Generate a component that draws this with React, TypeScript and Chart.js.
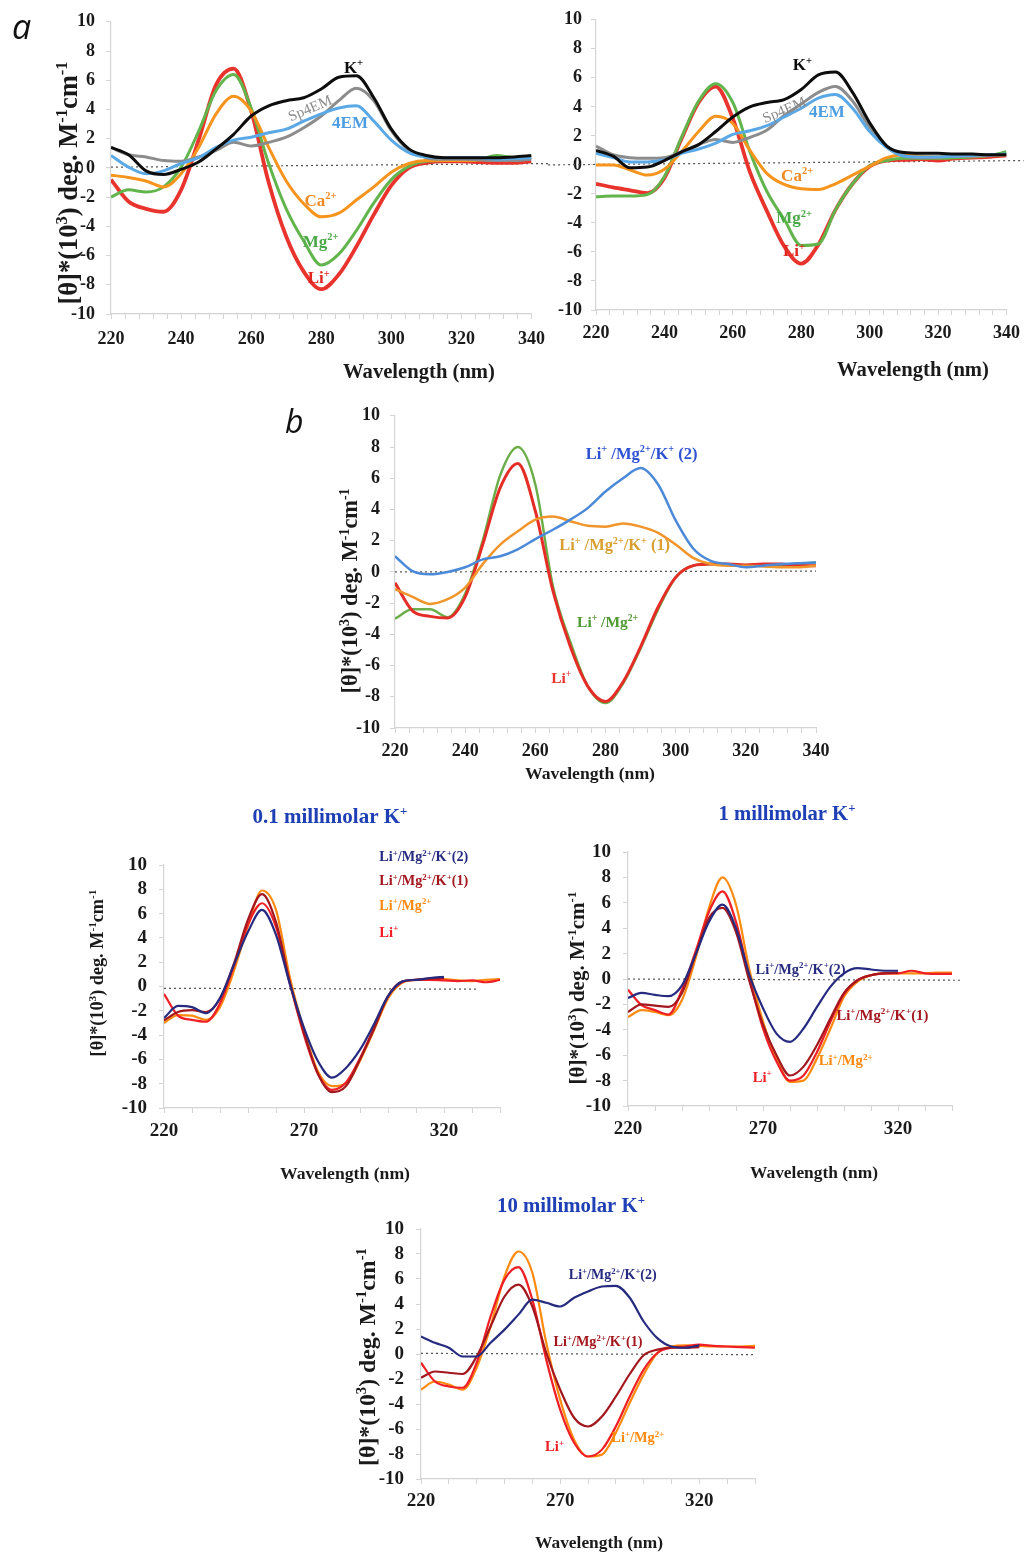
import React, { useEffect, useRef } from "react";
import { Chart, registerables } from "chart.js";

Chart.register(...registerables);

const SERIF = '"Liberation Serif", "Times New Roman", "DejaVu Serif", serif';
const SANS = '"Open Sans", "Liberation Sans", sans-serif';

// wavelength grid (nm)
const WL = [220, 225, 230, 235, 240, 245, 250, 255, 260, 265, 270, 275, 280, 285, 290, 295, 300, 305, 310, 315, 320, 325, 330, 335, 340];

// Panel a (left)
const A1_LI = [-0.8, -2.3, -2.8, -3.0, -1.5, 1.9, 5.7, 6.8, 3.9, -1.0, -4.7, -7.1, -8.3, -7.3, -5.4, -3.2, -1.2, 0.0, 0.35, 0.45, 0.45, 0.4, 0.35, 0.35, 0.45];
const A1_MG = [-2.0, -1.5, -1.65, -1.3, 0.05, 2.5, 5.3, 6.4, 4.1, 0.3, -2.8, -5.0, -6.65, -5.9, -4.3, -2.4, -0.8, 0.1, 0.45, 0.5, 0.5, 0.55, 0.85, 0.7, 0.7];
const A1_CA = [-0.5, -0.65, -0.9, -1.3, -0.4, 1.4, 3.7, 4.9, 3.9, 1.4, -0.9, -2.45, -3.35, -3.1, -2.2, -1.3, -0.3, 0.3, 0.5, 0.5, 0.5, 0.55, 0.6, 0.65, 0.7];
const A1_K = [1.4, 0.9, -0.2, -0.45, -0.1, 0.4, 1.3, 2.3, 3.55, 4.25, 4.6, 4.8, 5.4, 6.2, 6.3, 4.8, 2.65, 1.3, 0.85, 0.7, 0.7, 0.7, 0.7, 0.75, 0.85];
const A1_SP4EM = [1.4, 0.9, 0.75, 0.5, 0.45, 0.75, 1.2, 1.75, 1.5, 1.75, 2.1, 2.75, 3.55, 4.6, 5.45, 4.6, 2.55, 1.2, 0.7, 0.6, 0.6, 0.55, 0.5, 0.5, 0.6];
const A1_4EM = [0.85, 0.05, -0.4, -0.2, 0.3, 0.7, 1.4, 1.9, 2.1, 2.4, 2.65, 3.2, 3.7, 4.1, 4.25, 3.2, 1.9, 1.05, 0.75, 0.7, 0.7, 0.7, 0.6, 0.65, 0.7];
const A1_BASE_X = [220, 345];
const A1_BASE_Y = [0.05, 0.3];

// Panel a (right)
const A2_LI = [-1.3, -1.55, -1.75, -1.95, -0.9, 1.8, 4.3, 5.4, 3.2, -0.5, -3.2, -5.6, -6.8, -5.5, -3.1, -1.3, -0.1, 0.3, 0.35, 0.4, 0.3, 0.45, 0.5, 0.55, 0.65];
const A2_MG = [-2.2, -2.15, -2.15, -2.05, -0.8, 1.9, 4.4, 5.6, 4.3, 0.9, -1.85, -3.75, -5.55, -5.45, -3.1, -1.3, -0.05, 0.3, 0.45, 0.45, 0.45, 0.5, 0.55, 0.65, 0.9];
const A2_CA = [0.0, 0.0, -0.35, -0.7, -0.3, 0.9, 2.3, 3.35, 2.85, 1.0, -0.6, -1.35, -1.65, -1.7, -1.3, -0.7, -0.1, 0.5, 0.7, 0.6, 0.55, 0.6, 0.6, 0.65, 0.7];
const A2_K = [1.0, 0.6, -0.2, -0.15, 0.3, 0.9, 1.4, 2.3, 3.3, 4.0, 4.3, 4.5, 5.2, 6.2, 6.4, 5.0, 2.9, 1.3, 0.85, 0.8, 0.8, 0.75, 0.75, 0.7, 0.7];
const A2_SP4EM = [1.3, 0.7, 0.5, 0.45, 0.5, 0.9, 1.4, 1.75, 1.55, 1.9, 2.4, 3.4, 4.2, 5.0, 5.4, 4.4, 2.6, 1.3, 0.65, 0.5, 0.55, 0.6, 0.6, 0.65, 0.7];
const A2_4EM = [0.8, 0.5, 0.2, 0.2, 0.35, 0.8, 1.1, 1.5, 2.1, 2.35, 2.7, 3.3, 3.9, 4.6, 4.85, 3.9, 2.3, 1.2, 0.6, 0.55, 0.55, 0.6, 0.65, 0.7, 0.75];
const A2_BASE_X = [206, 345];
const A2_BASE_Y = [0.0, 0.3];

// Panel b
const B_LI = [-0.7, -2.5, -2.85, -2.95, -1.6, 1.75, 5.4, 6.95, 3.9, -1.2, -4.8, -7.35, -8.3, -7.05, -4.8, -2.25, -0.35, 0.4, 0.5, 0.5, 0.45, 0.5, 0.5, 0.4, 0.4];
const B_LIMG = [-3.0, -2.4, -2.4, -2.9, -1.4, 2.0, 6.2, 8.0, 5.6, -0.9, -4.5, -7.35, -8.4, -7.15, -4.9, -2.4, -0.35, 0.4, 0.5, 0.45, 0.4, 0.45, 0.45, 0.5, 0.6];
const B_K1 = [-1.1, -1.6, -2.05, -1.75, -1.0, 0.5, 1.75, 2.6, 3.35, 3.55, 3.25, 2.95, 2.9, 3.1, 2.9, 2.5, 1.75, 0.9, 0.5, 0.4, 0.4, 0.35, 0.3, 0.3, 0.4];
const B_K2 = [1.0, 0.05, -0.15, 0.0, 0.3, 0.8, 1.0, 1.45, 2.1, 2.7, 3.35, 4.1, 5.15, 6.0, 6.65, 5.6, 3.3, 1.5, 0.7, 0.5, 0.3, 0.4, 0.5, 0.55, 0.6];
const B_BASE_X = [220, 340];
const B_BASE_Y = [0.0, 0.05];

// 0.1 millimolar K+
const P01_K2 = [-2.6, -1.6, -1.7, -2.2, -0.95, 1.8, 4.5, 6.3, 4.25, 0.15, -3.4, -6.15, -7.5, -6.7, -5.2, -3.1, -0.8, 0.4, 0.55, 0.7, 0.8];
const P01_K1 = [-2.8, -2.1, -1.95, -2.1, -1.0, 1.9, 5.5, 7.6, 5.3, 0.3, -3.8, -7.2, -8.7, -8.2, -6.0, -3.5, -0.8, 0.4, 0.55, 0.65, 0.7];
const P01_LIMG = [-3.0, -2.35, -2.4, -2.75, -1.7, 1.3, 5.0, 7.9, 6.3, 0.7, -3.6, -7.0, -8.2, -8.0, -6.1, -3.6, -1.0, 0.3, 0.55, 0.6, 0.6, 0.5, 0.45, 0.55, 0.6];
const P01_LI = [-0.6, -2.4, -2.75, -2.9, -1.4, 1.7, 5.1, 6.85, 4.9, 0.2, -4.0, -7.2, -8.5, -7.9, -5.9, -3.4, -0.8, 0.35, 0.55, 0.55, 0.5, 0.45, 0.5, 0.35, 0.55];
const P01_BASE_X = [220, 332];
const P01_BASE_Y = [-0.15, -0.22];

// 1 millimolar K+
const P1_K2 = [-1.5, -1.1, -1.25, -1.35, -0.5, 1.9, 4.5, 5.85, 4.0, 0.3, -2.3, -4.3, -4.95, -3.9, -2.2, -0.6, 0.45, 0.85, 0.75, 0.65, 0.65];
const P1_K1 = [-2.6, -2.0, -2.1, -2.2, -1.1, 1.9, 4.8, 5.6, 3.7, -0.2, -3.6, -6.0, -7.6, -6.9, -5.2, -3.1, -1.1, -0.1, 0.3, 0.45, 0.5];
const P1_LIMG = [-3.0, -2.45, -2.6, -2.85, -1.65, 1.6, 5.6, 8.0, 5.85, 0.7, -3.35, -6.25, -8.1, -8.0, -6.25, -3.9, -1.4, -0.2, 0.3, 0.45, 0.45, 0.45, 0.45, 0.5, 0.5];
const P1_LI = [-0.85, -2.05, -2.45, -2.8, -0.85, 2.15, 5.3, 6.9, 4.5, 0.05, -3.9, -6.5, -8.0, -7.6, -5.75, -3.35, -1.2, -0.1, 0.3, 0.45, 0.45, 0.65, 0.45, 0.4, 0.4];
const P1_BASE_X = [220, 344];
const P1_BASE_Y = [0.0, -0.1];

// 10 millimolar K+
const P10_K2 = [1.4, 0.9, 0.5, -0.2, -0.2, 0.9, 1.95, 3.15, 4.35, 4.1, 3.8, 4.5, 5.0, 5.4, 5.45, 4.5, 2.6, 1.25, 0.6, 0.5, 0.7];
const P10_K1 = [-1.9, -1.4, -1.5, -1.6, -0.2, 2.2, 4.6, 5.55, 3.8, 0.1, -2.85, -5.1, -5.8, -5.0, -3.4, -1.6, -0.1, 0.35, 0.5, 0.5, 0.55];
const P10_LIMG = [-2.85, -2.2, -2.45, -2.85, -1.1, 2.2, 6.2, 8.2, 6.5, 0.9, -3.65, -6.85, -8.2, -8.05, -6.3, -3.9, -1.65, 0.1, 0.6, 0.7, 0.65, 0.6, 0.6, 0.6, 0.65];
const P10_LI = [-0.7, -2.2, -2.6, -2.7, -0.7, 3.0, 5.95, 6.95, 4.35, -0.45, -4.45, -7.1, -8.2, -7.65, -5.8, -3.4, -1.25, 0.1, 0.5, 0.6, 0.75, 0.65, 0.6, 0.55, 0.5];
const P10_BASE_X = [220, 340];
const P10_BASE_Y = [0.05, -0.05];

type Line = { data: number[]; color: string; width: number };
type Txt = {
  text: string; x: number; y: number; size: number; color?: string; w?: number; rot?: number;
  align?: "left" | "center" | "right"; italic?: boolean; family?: string; weight?: string; alpha?: boolean;
};
type PanelCfg = {
  box: number[]; area: number[]; xStep: number; xLabelEvery: number; tickSize: number; xPad: number; yPad: number;
  lines: Line[]; baseX: number[]; baseY: number[]; notes: Txt[]; texts: Txt[];
};

const YTITLE = "[\u03b8]*(10^{3}) deg. M^{-1}cm^{-1}";
const XTITLE = "Wavelength (nm)";

function drawRich(ctx: CanvasRenderingContext2D, t: Txt, px: number, py: number) {
  const parts: { s: string; sup: boolean }[] = [];
  const re = /\^\{([^}]*)\}/g;
  let last = 0;
  let m: RegExpExecArray | null;
  while ((m = re.exec(t.text))) {
    if (m.index > last) parts.push({ s: t.text.slice(last, m.index), sup: false });
    parts.push({ s: m[1], sup: true });
    last = re.lastIndex;
  }
  if (last < t.text.length) parts.push({ s: t.text.slice(last), sup: false });
  const fam = t.family ?? SERIF;
  const font = (sz: number) => `${t.italic ? "italic " : ""}${t.weight ?? "bold"} ${sz}px ${fam}`;
  const measure = (sz: number) =>
    parts.reduce((acc, p) => {
      ctx.font = font(p.sup ? sz * 0.62 : sz);
      return acc + ctx.measureText(p.s).width;
    }, 0);
  let size = t.size;
  if (t.w) size = (size * t.w) / measure(size);
  const total = measure(size);
  ctx.save();
  ctx.translate(px, py);
  if (t.rot) ctx.rotate((t.rot * Math.PI) / 180);
  let cx = t.align === "left" ? 0 : t.align === "right" ? -total : -total / 2;
  const base = t.alpha ? 0 : size * 0.33;
  ctx.fillStyle = t.color ?? "#1a1a1a";
  ctx.textAlign = "left";
  ctx.textBaseline = "alphabetic";
  for (const p of parts) {
    const sz = p.sup ? size * 0.62 : size;
    ctx.font = font(sz);
    ctx.fillText(p.s, cx, p.sup ? base - size * 0.38 : base);
    cx += ctx.measureText(p.s).width;
  }
  ctx.restore();
}

// colours
const C_RED = "#e8342c";
const C_GREEN = "#62b54c";
const C_ORANGE = "#f7941d";
const C_BLACK = "#0d0d0d";
const C_GRAY = "#8c8c8c";
const C_BLUE = "#5aa9e6";
const N_NAVY = "#262b80";
const N_DARKRED = "#a3171e";
const N_ORANGE = "#ff8a10";
const N_RED = "#ee1f25";
const T_BLUE = "#1f40b5";

const CFG_A1: PanelCfg = {
  box: [0, 0, 555, 395], area: [111, 21, 533, 314], xStep: 4, xLabelEvery: 20, tickSize: 18, xPad: 10, yPad: 11,
  lines: [
    { data: A1_K, color: C_BLACK, width: 3 },
    { data: A1_4EM, color: C_BLUE, width: 3 },
    { data: A1_SP4EM, color: C_GRAY, width: 3 },
    { data: A1_CA, color: C_ORANGE, width: 3 },
    { data: A1_MG, color: C_GREEN, width: 3 },
    { data: A1_LI, color: C_RED, width: 3.8 },
  ],
  baseX: A1_BASE_X, baseY: A1_BASE_Y,
  notes: [
    { text: "K^{+}", x: 289.2, y: 6.9, size: 17, color: C_BLACK },
    { text: "Sp4EM", x: 276.8, y: 4.1, size: 15, color: "#8a8a8a", rot: -23, weight: "normal" },
    { text: "4EM", x: 288.2, y: 3.1, size: 17, color: "#4c9de2" },
    { text: "Ca^{2+}", x: 279.8, y: -2.2, size: 17, color: "#f08a24" },
    { text: "Mg^{2+}", x: 279.8, y: -5.0, size: 17, color: "#4aa846" },
    { text: "Li^{+}", x: 279.3, y: -7.5, size: 17, color: "#e02822" },
  ],
  texts: [
    { text: "a", x: 12, y: 39, size: 34, italic: true, weight: "normal", family: SANS, align: "left", alpha: true, color: "#111" },
    { text: YTITLE, x: 68, y: 183, size: 20, w: 243, rot: -90 },
    { text: XTITLE, x: 419, y: 371, size: 20, w: 152 },
  ],
};

const CFG_A2: PanelCfg = {
  box: [545, 0, 483, 395], area: [596, 16, 1012, 310], xStep: 4, xLabelEvery: 20, tickSize: 18, xPad: 8, yPad: 9,
  lines: [
    { data: A2_K, color: C_BLACK, width: 3 },
    { data: A2_4EM, color: C_BLUE, width: 3 },
    { data: A2_SP4EM, color: C_GRAY, width: 3 },
    { data: A2_CA, color: C_ORANGE, width: 3 },
    { data: A2_MG, color: C_GREEN, width: 3 },
    { data: A2_LI, color: C_RED, width: 3.8 },
  ],
  baseX: A2_BASE_X, baseY: A2_BASE_Y,
  notes: [
    { text: "K^{+}", x: 280.3, y: 6.9, size: 17, color: C_BLACK },
    { text: "Sp4EM", x: 275, y: 3.8, size: 15, color: "#8a8a8a", rot: -23, weight: "normal" },
    { text: "4EM", x: 287.5, y: 3.7, size: 17, color: "#4c9de2" },
    { text: "Ca^{2+}", x: 278.8, y: -0.7, size: 17, color: "#f08a24" },
    { text: "Mg^{2+}", x: 277.9, y: -3.65, size: 17, color: "#4aa846" },
    { text: "Li^{+}", x: 277.9, y: -5.9, size: 17, color: "#e02822" },
  ],
  texts: [{ text: XTITLE, x: 913, y: 369, size: 20, w: 152 }],
};

const CFG_B: PanelCfg = {
  box: [270, 395, 570, 395], area: [395, 414, 816, 728], xStep: 4, xLabelEvery: 20, tickSize: 18, xPad: 8, yPad: 10,
  lines: [
    { data: B_K2, color: "#4a8ad8", width: 2.5 },
    { data: B_K1, color: "#f0952c", width: 2.5 },
    { data: B_LI, color: "#e42d26", width: 3 },
    { data: B_LIMG, color: "#6cae4a", width: 2.5 },
  ],
  baseX: B_BASE_X, baseY: B_BASE_Y,
  notes: [
    { text: "Li^{+} /Mg^{2+}/K^{+} (2)", x: 290.3, y: 7.6, size: 16, w: 112, color: "#2f52d2" },
    { text: "Li^{+} /Mg^{2+}/K^{+} (1)", x: 282.6, y: 1.75, size: 16, w: 111, color: "#d9a031" },
    { text: "Li^{+} /Mg^{2+}", x: 280.6, y: -3.2, size: 16, w: 61, color: "#4f9a32" },
    { text: "Li^{+}", x: 267.4, y: -6.8, size: 16, w: 20, color: "#e8332b" },
  ],
  texts: [
    { text: "b", x: 285, y: 433, size: 32, italic: true, weight: "normal", family: SANS, align: "left", alpha: true, color: "#111" },
    { text: YTITLE, x: 350, y: 591, size: 18, w: 205, rot: -90 },
    { text: XTITLE, x: 590, y: 773, size: 18, w: 130 },
  ],
};

const CFG_P01: PanelCfg = {
  box: [60, 795, 460, 395], area: [164, 865, 500, 1108], xStep: 10, xLabelEvery: 50, tickSize: 19, xPad: 7, yPad: 12,
  lines: [
    { data: P01_K2, color: N_NAVY, width: 2.2 },
    { data: P01_K1, color: N_DARKRED, width: 2.2 },
    { data: P01_LI, color: N_RED, width: 2.2 },
    { data: P01_LIMG, color: N_ORANGE, width: 2.2 },
  ],
  baseX: P01_BASE_X, baseY: P01_BASE_Y,
  notes: [
    { text: "Li^{+}/Mg^{2+}/K^{+}(2)", x: 296.9, y: 10.7, size: 15, w: 89, align: "left", color: N_NAVY },
    { text: "Li^{+}/Mg^{2+}/K^{+}(1)", x: 296.9, y: 8.7, size: 15, w: 89, align: "left", color: N_DARKRED },
    { text: "Li^{+}/Mg^{2+}", x: 296.9, y: 6.7, size: 15, w: 52, align: "left", color: N_ORANGE },
    { text: "Li^{+}", x: 296.9, y: 4.5, size: 15, w: 19, align: "left", color: N_RED },
  ],
  texts: [
    { text: "0.1 millimolar K^{+}", x: 330, y: 816, size: 18, w: 155, color: T_BLUE },
    { text: YTITLE, x: 97, y: 973, size: 16, w: 167, rot: -90 },
    { text: XTITLE, x: 345, y: 1173, size: 17, w: 130 },
  ],
};

const CFG_P1: PanelCfg = {
  box: [540, 795, 440, 395], area: [628, 852, 952, 1106], xStep: 10, xLabelEvery: 50, tickSize: 19, xPad: 7, yPad: 12,
  lines: [
    { data: P1_K2, color: N_NAVY, width: 2.2 },
    { data: P1_K1, color: N_DARKRED, width: 2.2 },
    { data: P1_LI, color: N_RED, width: 2.2 },
    { data: P1_LIMG, color: N_ORANGE, width: 2.2 },
  ],
  baseX: P1_BASE_X, baseY: P1_BASE_Y,
  notes: [
    { text: "Li^{+}/Mg^{2+}/K^{+}(2)", x: 283.9, y: 0.8, size: 15, w: 90, color: N_NAVY },
    { text: "Li^{+}/Mg^{2+}/K^{+}(1)", x: 314.2, y: -2.85, size: 15, w: 92, color: N_DARKRED },
    { text: "Li^{+}/Mg^{2+}", x: 300.6, y: -6.4, size: 15, w: 54, color: N_ORANGE },
    { text: "Li^{+}", x: 269.7, y: -7.7, size: 15, w: 19, color: N_RED },
  ],
  texts: [
    { text: "1 millimolar K^{+}", x: 787, y: 813, size: 18, w: 137, color: T_BLUE },
    { text: YTITLE, x: 577, y: 988, size: 17, w: 193, rot: -90 },
    { text: XTITLE, x: 814, y: 1172, size: 17, w: 128 },
  ],
};

const CFG_P10: PanelCfg = {
  box: [330, 1190, 450, 363], area: [421, 1229, 755, 1479], xStep: 10, xLabelEvery: 50, tickSize: 19, xPad: 6, yPad: 12,
  lines: [
    { data: P10_K2, color: N_NAVY, width: 2.2 },
    { data: P10_K1, color: N_DARKRED, width: 2.2 },
    { data: P10_LI, color: N_RED, width: 2.2 },
    { data: P10_LIMG, color: N_ORANGE, width: 2.2 },
  ],
  baseX: P10_BASE_X, baseY: P10_BASE_Y,
  notes: [
    { text: "Li^{+}/Mg^{2+}/K^{+}(2)", x: 288.9, y: 6.35, size: 15, w: 88, color: N_NAVY },
    { text: "Li^{+}/Mg^{2+}/K^{+}(1)", x: 283.6, y: 1.0, size: 15, w: 89, color: N_DARKRED },
    { text: "Li^{+}/Mg^{2+}", x: 297.9, y: -6.7, size: 15, w: 53, color: N_ORANGE },
    { text: "Li^{+}", x: 268.0, y: -7.4, size: 15, w: 19, color: N_RED },
  ],
  texts: [
    { text: "10 millimolar K^{+}", x: 571, y: 1205, size: 18, w: 148, color: T_BLUE },
    { text: YTITLE, x: 367, y: 1357, size: 18, w: 218, rot: -90 },
    { text: XTITLE, x: 599, y: 1542, size: 17, w: 128 },
  ],
};

function Panel({ cfg }: { cfg: PanelCfg }) {
  const ref = useRef<HTMLCanvasElement | null>(null);
  const [L, T, W, H] = cfg.box;
  useEffect(() => {
    if (!ref.current) return;
    const aL = cfg.area[0] - L;
    const aT = cfg.area[1] - T;
    const aR = cfg.area[2] - L;
    const aB = cfg.area[3] - T;
    const XH = 30;
    const xVals: number[] = [];
    for (let v = 220; v <= 340; v += cfg.xStep) xVals.push(v);
    const yVals: number[] = [];
    for (let v = -10; v <= 10; v += 2) yVals.push(v);
    const axisColor = "#d4d4d4";
    const tickFont = { family: SERIF, size: cfg.tickSize, weight: "bold" as const };
    const datasets: any[] = cfg.lines.map((l) => ({
      data: l.data.map((y, i) => ({ x: WL[i], y })),
      borderColor: l.color,
      borderWidth: l.width,
      pointRadius: 0,
      cubicInterpolationMode: "monotone",
      fill: false,
    }));
    datasets.push({
      data: cfg.baseX.map((x, i) => ({ x, y: cfg.baseY[i] })),
      borderColor: "#555555",
      borderWidth: 1.2,
      borderDash: [2, 3],
      pointRadius: 0,
      fill: false,
      clip: false,
    });
    const chart = new Chart(ref.current, {
      type: "line",
      data: { datasets },
      options: {
        responsive: false,
        animation: false,
        devicePixelRatio: 1,
        events: [],
        layout: { padding: { left: 0, top: aT, right: W - aR, bottom: H - aB - XH } },
        plugins: { legend: { display: false }, tooltip: { enabled: false }, title: { display: false } },
        scales: {
          x: {
            type: "linear",
            min: 220,
            max: 340,
            afterBuildTicks: (s: any) => {
              s.ticks = xVals.map((v) => ({ value: v }));
            },
            afterFit: (s: any) => {
              s.height = XH;
            },
            ticks: {
              autoSkip: false,
              maxRotation: 0,
              minRotation: 0,
              padding: cfg.xPad,
              color: "#1a1a1a",
              font: tickFont,
              callback: (v: any) => ((Number(v) - 220) % cfg.xLabelEvery === 0 ? String(v) : ""),
            },
            grid: { drawOnChartArea: false, drawTicks: true, tickLength: 5, color: axisColor },
            border: { display: true, color: axisColor, width: 1.2 },
          },
          y: {
            type: "linear",
            min: -10,
            max: 10,
            afterBuildTicks: (s: any) => {
              s.ticks = yVals.map((v) => ({ value: v }));
            },
            afterFit: (s: any) => {
              s.width = aL;
            },
            ticks: {
              autoSkip: false,
              padding: cfg.yPad,
              color: "#1a1a1a",
              font: tickFont,
              callback: (v: any) => String(v),
            },
            grid: { drawOnChartArea: false, drawTicks: true, tickLength: 5, color: axisColor },
            border: { display: true, color: axisColor, width: 1.2 },
          },
        },
      } as any,
      plugins: [
        {
          id: "panelText",
          afterDraw(c: any) {
            const ctx = c.ctx as CanvasRenderingContext2D;
            const xs = c.scales.x;
            const ys = c.scales.y;
            cfg.notes.forEach((n) => drawRich(ctx, n, xs.getPixelForValue(n.x), ys.getPixelForValue(n.y)));
            cfg.texts.forEach((t) => drawRich(ctx, t, t.x - L, t.y - T));
          },
        },
      ],
    });
    return () => chart.destroy();
  }, [cfg]);
  return (
    <canvas
      ref={ref}
      width={W}
      height={H}
      style={{ position: "absolute", left: L, top: T, width: W, height: H }}
    />
  );
}

export default function App() {
  return (
    <div style={{ position: "absolute", left: 0, top: 0, width: 1028, height: 1553, background: "#ffffff", overflow: "hidden" }}>
      <Panel cfg={CFG_A1} />
      <Panel cfg={CFG_A2} />
      <Panel cfg={CFG_B} />
      <Panel cfg={CFG_P01} />
      <Panel cfg={CFG_P1} />
      <Panel cfg={CFG_P10} />
    </div>
  );
}
